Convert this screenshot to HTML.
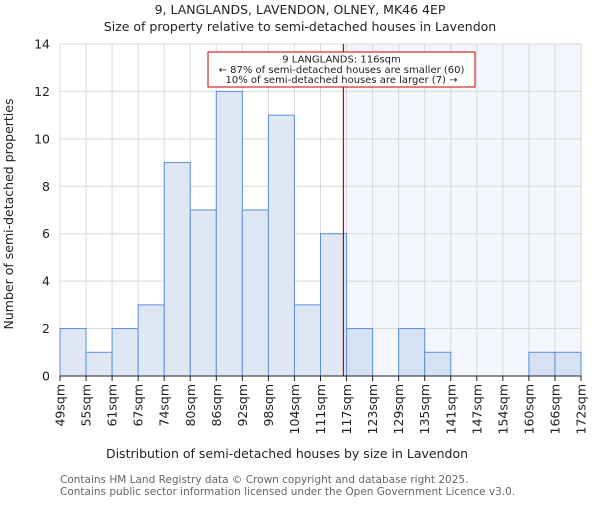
<!DOCTYPE html>
<html><head><meta charset="utf-8"><style>
body{margin:0;background:#fff;font-family:"Liberation Sans","DejaVu Sans",sans-serif}
svg text{font-family:"DejaVu Sans","Liberation Sans",sans-serif}
</style></head><body>
<svg id="c" width="600" height="500" xmlns="http://www.w3.org/2000/svg">
<text x="300" y="14" text-anchor="middle" font-size="12.5" fill="#222">9, LANGLANDS, LAVENDON, OLNEY, MK46 4EP</text>
<text x="300" y="31" text-anchor="middle" font-size="12.5" fill="#222">Size of property relative to semi-detached houses in Lavendon</text>
<g id="grid"></g><g id="bars"></g><g id="axes"></g>
<text x="287" y="458" text-anchor="middle" font-size="12.5" fill="#222">Distribution of semi-detached houses by size in Lavendon</text>
<text transform="translate(13,214) rotate(-90)" text-anchor="middle" font-size="12.5" fill="#222">Number of semi-detached properties</text>
<text x="60" y="483" font-size="10.5" fill="#666">Contains HM Land Registry data © Crown copyright and database right 2025.</text>
<text x="60" y="495" font-size="10.5" fill="#666">Contains public sector information licensed under the Open Government Licence v3.0.</text>
</svg>
<script>
const categories=["49sqm","55sqm","61sqm","67sqm","74sqm","80sqm","86sqm","92sqm","98sqm","104sqm","111sqm","117sqm","123sqm","129sqm","135sqm","141sqm","147sqm","154sqm","160sqm","166sqm","172sqm"];
const counts=[2,1,2,3,9,7,12,7,11,3,6,2,0,2,1,0,0,0,1,1];
const yTicks=[0,2,4,6,8,10,12,14];
const markerBin=10.88;
const annotation=["9 LANGLANDS: 116sqm","← 87% of semi-detached houses are smaller (60)","10% of semi-detached houses are larger (7) →"];
const NS="http://www.w3.org/2000/svg";
const X0=60,X1=581,Y0=376,Y1=44,YMAX=14;
const bw=(X1-X0)/counts.length;
const xs=i=>X0+i*bw;
const ys=v=>Y0-(v/YMAX)*(Y0-Y1);
function mk(p,t,a){const e=document.createElementNS(NS,t);for(const k in a)e.setAttribute(k,a[k]);p.appendChild(e);return e;}
const grid=document.getElementById('grid'),bars=document.getElementById('bars'),axes=document.getElementById('axes');
const mx=xs(markerBin);
const sh=mk(grid,'rect',{x:mx,y:Y1,width:X1-mx,height:Y0-Y1,fill:'#f3f6fd'});


for(let i=0;i<=counts.length;i++){const l=mk(grid,'line',{x1:xs(i),x2:xs(i),y1:Y1,y2:Y0,stroke:'#d8d8d8','stroke-width':1});

}
yTicks.forEach(v=>{const l=mk(grid,'line',{x1:X0,x2:X1,y1:ys(v),y2:ys(v),stroke:'#d8d8d8','stroke-width':1});


const t=mk(axes,'text',{x:X0-10,y:ys(v)+4.5,'text-anchor':'end','font-size':12.5,fill:'#222'});t.textContent=v;

});
counts.forEach((v,i)=>{if(!v)return;const r=mk(bars,'rect',{x:xs(i),y:ys(v),width:bw,height:Y0-ys(v),fill:i>=11?'#d6e1f3':'#dfe7f4',stroke:'#5b8fd6','stroke-width':1});

});
categories.forEach((c,i)=>{const x=xs(i);mk(axes,'line',{x1:x,x2:x,y1:Y0,y2:Y0+5,stroke:'#222'});
const t=mk(axes,'text',{transform:`translate(${x+4.5},${Y0+8}) rotate(-90)`,'text-anchor':'end','font-size':12.5,fill:'#222'});t.textContent=c;

});
const ml=mk(axes,'line',{x1:mx,x2:mx,y1:Y1,y2:Y0,stroke:'#cc0000','stroke-width':1.2});


const bx=mk(axes,'rect',{x:208,y:52,width:267,height:35,fill:'#fff',stroke:'#cc0000','stroke-width':1});


annotation.forEach((s,k)=>{const t=mk(axes,'text',{x:341.5,y:62.5+k*10.3,'text-anchor':'middle','font-size':10,fill:'#222'});t.textContent=s;

});
const ax=mk(axes,'line',{x1:X0,x2:X1,y1:Y0,y2:Y0,stroke:'#222'});


</script>
</body></html>
